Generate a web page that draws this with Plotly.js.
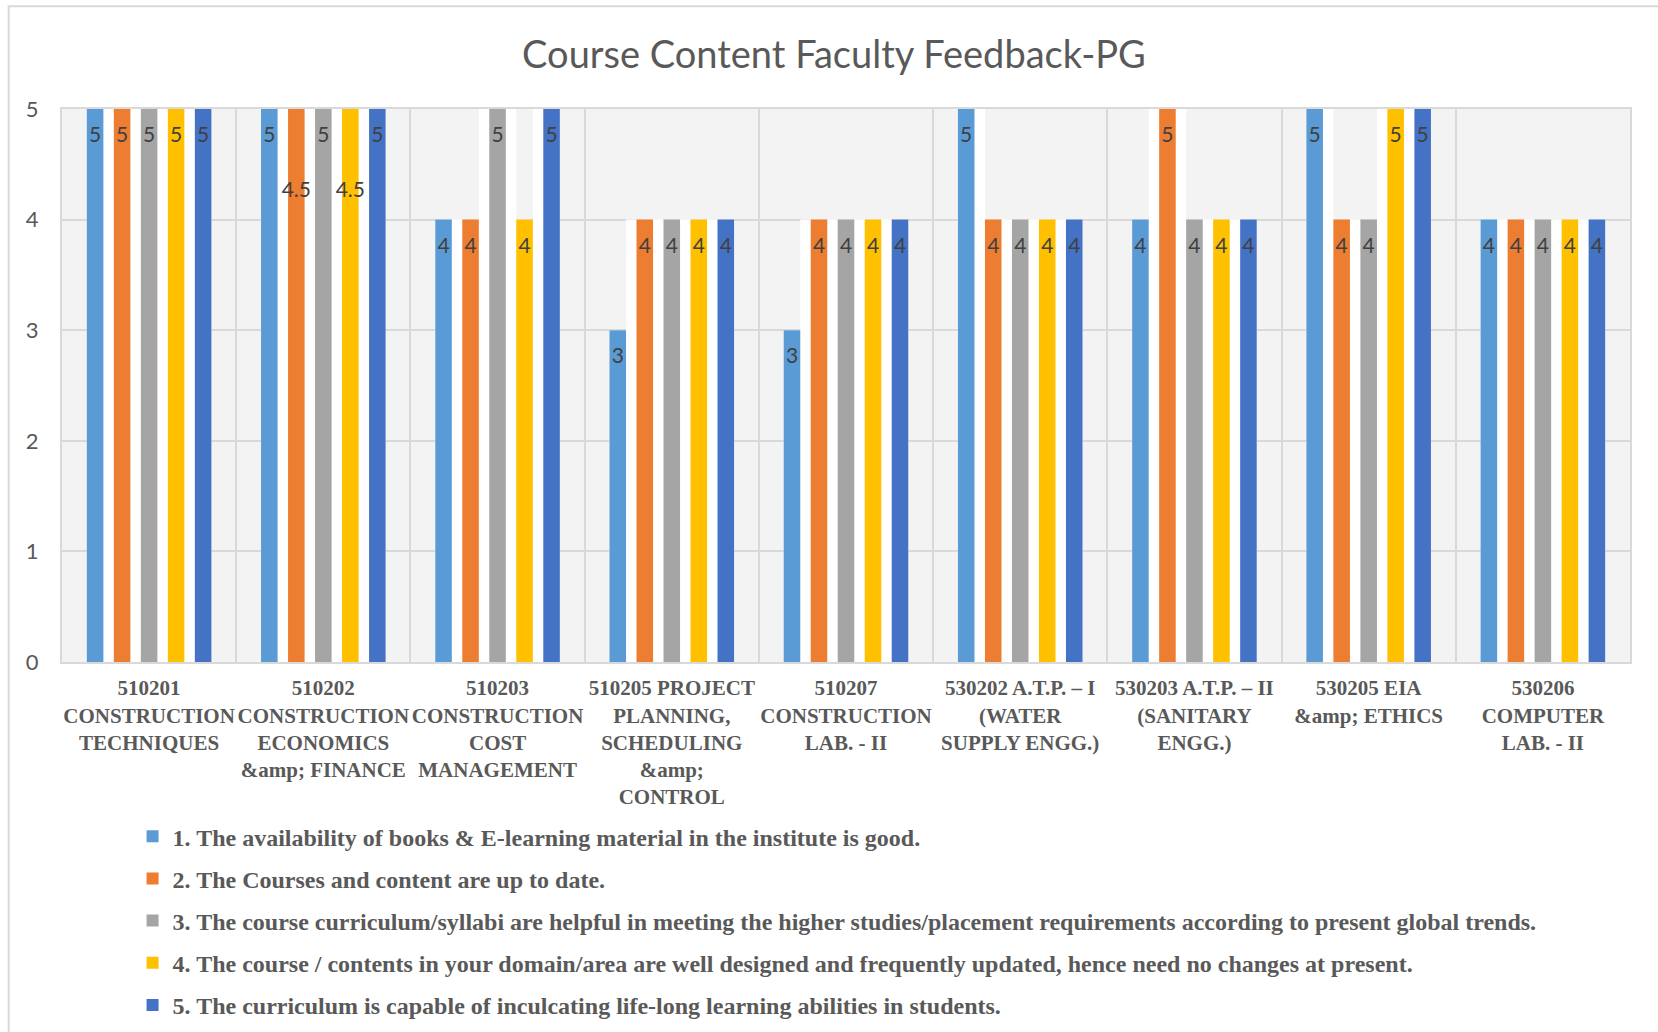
<!DOCTYPE html>
<html>
<head>
<meta charset="utf-8">
<script src="https://cdn.plot.ly/plotly-3.0.1.min.js"></script>
<style>
  html, body { margin: 0; padding: 0; background: #fff; }
  #chart { width: 1658px; height: 1032px; }
</style>
</head>
<body>
<div id="chart"></div>
<script>
/* Course Content Faculty Feedback-PG — grouped bars, one group per course */

const categories = [
  '510201<br>CONSTRUCTION<br>TECHNIQUES',
  '510202<br>CONSTRUCTION<br>ECONOMICS<br>&amp;amp; FINANCE',
  '510203<br>CONSTRUCTION<br>COST<br>MANAGEMENT',
  '510205 PROJECT<br>PLANNING,<br>SCHEDULING<br>&amp;amp;<br>CONTROL',
  '510207<br>CONSTRUCTION<br>LAB. - II',
  '530202 A.T.P. – I<br>(WATER<br>SUPPLY ENGG.)',
  '530203 A.T.P. – II<br>(SANITARY<br>ENGG.)',
  '530205 EIA<br>&amp;amp; ETHICS',
  '530206<br>COMPUTER<br>LAB. - II',
];

const seriesNames = [
  '1. The availability of books &amp; E-learning material in the institute is good.',
  '2. The Courses and content are up to date.',
  '3. The course curriculum/syllabi are helpful in meeting the higher studies/placement requirements according to present global trends.',
  '4. The course / contents in your domain/area are well designed and frequently updated, hence need no changes at present.',
  '5. The curriculum is capable of inculcating life-long learning abilities in students.',
];

// bar heights as drawn
const q1Vals = [5, 5, 4, 3, 3, 5, 4, 5, 4];
const q2Vals = [5, 5, 4, 4, 4, 4, 5, 4, 4];
const q3Vals = [5, 5, 5, 4, 4, 4, 4, 4, 4];
const q4Vals = [5, 5, 4, 4, 4, 4, 4, 5, 4];
const q5Vals = [5, 5, 5, 4, 4, 4, 4, 5, 4];

// data labels as printed (two bars of 510202 read 4.5)
const q1Labels = [5, 5, 4, 3, 3, 5, 4, 5, 4];
const q2Labels = [5, 4.5, 4, 4, 4, 4, 5, 4, 4];
const q3Labels = [5, 5, 5, 4, 4, 4, 4, 4, 4];
const q4Labels = [5, 4.5, 4, 4, 4, 4, 4, 5, 4];
const q5Labels = [5, 5, 5, 4, 4, 4, 4, 5, 4];

const yTicks = [0, 1, 2, 3, 4, 5];

const COLORS = ['#5B9BD5', '#ED7D31', '#A5A5A5', '#FFC000', '#4472C4'];
const TEXT = '#595959';

const PITCH = 0.155;   // slot per bar, in category units
const BAR_W = 0.095;
const GAP = PITCH - BAR_W;

const vals = [q1Vals, q2Vals, q3Vals, q4Vals, q5Vals];
const labels = [q1Labels, q2Labels, q3Labels, q4Labels, q5Labels];
const xIdx = categories.map((c, i) => i);

// white strips behind the bars (Excel draws them between bars of a group)
const whiteTraces = vals.map((v, s) => {
  const center = (s - 2) * PITCH;
  const gl = s > 0 ? GAP : 0;
  const gr = s < 4 ? GAP : 0;
  return {
    type: 'bar', x: xIdx, y: v,
    offset: center - BAR_W / 2 - gl, width: BAR_W + gl + gr,
    marker: { color: '#ffffff', line: { width: 0 } },
    showlegend: false, hoverinfo: 'skip',
  };
});

const barTraces = vals.map((v, s) => {
  const center = (s - 2) * PITCH;
  return {
    type: 'bar', x: xIdx, y: v, name: seriesNames[s],
    offset: center - BAR_W / 2, width: BAR_W,
    marker: { color: COLORS[s], line: { width: 0 } },
    legendgroup: 'g' + s,
    hovertemplate: '%{y}<extra></extra>',
  };
});

const labelTraces = labels.map((lab, s) => {
  const center = (s - 2) * PITCH;
  return {
    type: 'scatter', mode: 'text',
    x: xIdx.map(i => i + center),
    y: lab.map(l => l - 0.25),
    text: lab.map(String),
    textposition: 'middle center',
    textfont: { family: 'Lato, sans-serif', size: 21, color: '#404040' },
    showlegend: false, hoverinfo: 'skip', cliponaxis: false,
  };
});

const layout = {
  width: 1658, height: 1032,
  paper_bgcolor: '#ffffff',
  plot_bgcolor: '#f3f3f3',
  margin: { l: 62, r: 28, t: 109, b: 370, autoexpand: false },
  barmode: 'overlay',
  title: {
    text: 'Course Content Faculty Feedback-PG',
    font: { family: 'Lato, sans-serif', size: 38, color: TEXT },
    x: 0.503, xanchor: 'center', y: 0.947, yanchor: 'middle', yref: 'container',
  },
  xaxis: {
    range: [-0.5, 8.5], tickmode: 'array', tickvals: xIdx, ticktext: categories,
    showgrid: false, zeroline: false, ticks: '',
    showline: true, linecolor: '#d9d9d9', linewidth: 2, mirror: true,
    tickfont: { family: 'Liberation Serif, serif', size: 21, color: TEXT, weight: 'bold' },
    ticklabelstandoff: 6, automargin: false,
    minor: { tickmode: 'array', tickvals: xIdx.map(i => i - 0.5).concat([8.5]), showgrid: true, gridcolor: '#d9d9d9', gridwidth: 2, ticks: '' },
  },
  yaxis: {
    range: [0, 5], tickmode: 'array', tickvals: yTicks,
    showgrid: true, gridcolor: '#d9d9d9', gridwidth: 2, zeroline: false,
    showline: true, linecolor: '#d9d9d9', linewidth: 2, mirror: true, ticks: '',
    tickfont: { family: 'Lato, sans-serif', size: 22, color: TEXT },
    ticklabelstandoff: 17, automargin: false,
  },
  legend: {
    orientation: 'v', x: 0.045, xanchor: 'left', y: -0.275, yanchor: 'top',
    font: { family: 'Liberation Serif, serif', size: 24, color: TEXT, weight: 'bold' },
    tracegroupgap: 8, itemwidth: 30, bgcolor: 'rgba(0,0,0,0)',
  },
  shapes: [{
    type: 'rect', xref: 'paper', yref: 'paper',
    x0: -0.034, x1: 1.2, y0: -0.8, y1: 1.186,
    line: { color: '#d9d9d9', width: 2 }, layer: 'below',
  }],
  showlegend: true,
};

Plotly.newPlot('chart', whiteTraces.concat(barTraces, labelTraces), layout, { displayModeBar: false, responsive: false });
</script>
</body>
</html>
